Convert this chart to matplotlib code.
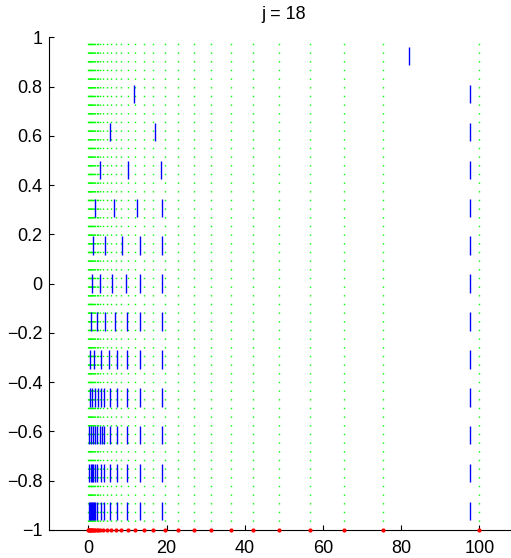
import numpy as np
import matplotlib
matplotlib.use('Agg')
import matplotlib.pyplot as plt

plt.rcParams['font.family'] = ['Liberation Sans', 'DejaVu Sans']

# grid nodes (green dotted lines, red dots on the bottom axis)
gridX = [0.0, 0.1, 0.25, 0.4, 0.55, 0.75, 0.95, 1.2, 1.45, 1.75, 2.1, 2.5,
         3.0, 3.8, 4.8, 5.8, 7.0, 8.4, 10.1, 12.0, 14.1, 16.6, 19.6, 23.0,
         26.9, 31.3, 36.4, 42.2, 48.8, 56.7, 65.5, 75.4, 100.0]

# level heights of the blue marks, bottom to top
levelY = [-0.923, -0.769, -0.615, -0.462, -0.308, -0.154, 0.0,
          0.154, 0.308, 0.462, 0.615, 0.769, 0.923]

# x positions of the blue marks on each level
levelX = [
    [0.26, 0.43, 0.6, 0.87, 1.1, 1.46, 1.8, 2.3, 3.2, 4.1, 5.5, 7.4, 9.8, 13.3, 18.8, 97.5],
    [0.26, 0.6, 0.95, 1.28, 1.8, 2.3, 3.2, 4.1, 5.5, 7.4, 9.8, 13.3, 18.8, 97.5],
    [0.26, 0.69, 1.2, 1.8, 2.3, 2.9, 3.4, 4.1, 5.5, 7.4, 9.8, 13.3, 18.8, 97.5],
    [0.43, 0.95, 1.6, 2.4, 3.2, 4.1, 5.5, 7.4, 9.8, 13.3, 18.8, 97.5],
    [0.5, 1.5, 3.25, 5.2, 7.3, 9.8, 13.3, 18.8, 97.5],
    [0.6, 2.15, 4.35, 6.9, 9.8, 13.3, 18.8, 97.5],
    [0.86, 3.0, 6.06, 9.56, 13.3, 18.8, 97.5],
    [1.2, 4.35, 8.6, 13.2, 18.8, 97.5],
    [1.8, 6.6, 12.5, 18.8, 97.5],
    [3.0, 10.2, 18.5, 97.5],
    [5.4, 17.1, 97.5],
    [11.6, 97.5],
    [82.0],
]

xTicks = [0, 20, 40, 60, 80, 100]
yTicks = [-1, -0.8, -0.6, -0.4, -0.2, 0, 0.2, 0.4, 0.6, 0.8, 1]
halfLen = 0.0375

fig = plt.figure(figsize=(5.11, 5.58), dpi=100)
ax = fig.add_axes([0.0965, 0.0502, 0.918, 0.883])

for gx in gridX:
    ax.plot([gx, gx], [-1, 1], color=(0, 1, 0), lw=1.0,
            linestyle=(0, (1, 5.24)))

for yc, xs in zip(levelY, levelX):
    xs = np.asarray(xs)
    ax.vlines(xs, yc - halfLen, yc + halfLen, colors='b', lw=1.0)

ax.plot(gridX, np.full(len(gridX), -1.0), 'o', color='r', ms=3,
        mec='none', clip_on=False, zorder=5)

ax.set_xlim(-10, 110)
ax.set_ylim(-1, 1)
ax.set_xticks(xTicks)
ax.set_yticks(yTicks)
ax.set_yticklabels(['\u22121', '\u22120.8', '\u22120.6', '\u22120.4', '\u22120.2', '0',
                    '0.2', '0.4', '0.6', '0.8', '1'])
ax.spines['top'].set_visible(False)
ax.spines['right'].set_visible(False)
ax.spines['left'].set_linewidth(0.8)
ax.spines['bottom'].set_linewidth(0.8)
ax.tick_params(direction='in', length=3.4, width=0.8, labelsize=13)
ax.tick_params(axis='x', pad=7.5)
ax.tick_params(axis='y', pad=5)
ax.set_title('j = 18', fontsize=13, pad=13)

fig.savefig('out.png', dpi=100)
